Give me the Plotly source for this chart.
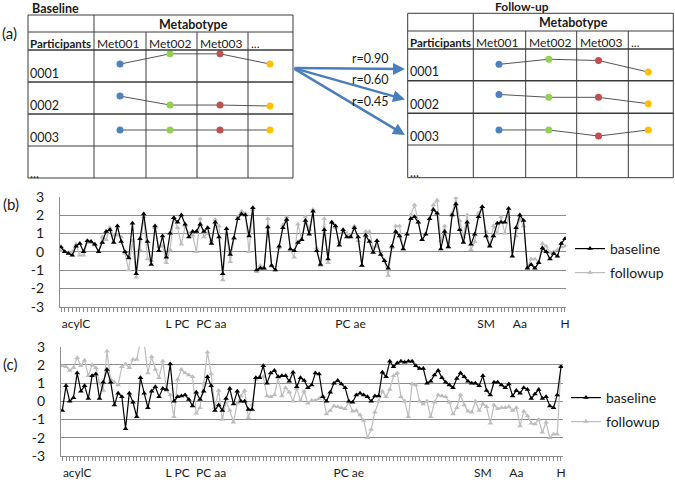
import plotly.graph_objects as go

W, H = 675, 482

# ---------------- data ----------------
group_labels = ["acylC", "L PC", "PC aa", "PC ae", "SM", "Aa", "H"]
group_pos = [5, 32, 41, 78, 114, 123, 135]
y_ticks = [-3, -2, -1, 0, 1, 2, 3]
y_tick_text = ["-3", "-2", "-1", "0", "1", "2", "3"]

b_baseline = [0.25, 0.0, -0.1, -0.2, 0.3, 0.45, 0.0, 0.6, 0.55, 0.4, 0.0, 0.5, 1.1, 1.2, 0.5, 1.4, 0.55, 0.0, -0.35, 1.55,
              -1.2, 0.7, 2.05, 0.55, -0.7, 1.4, 0.05, 0.85, -0.3, 1.0, 1.85, 1.6, 2.0, 1.5, 0.8, 1.1, 1.1, 1.5, 1.1, 1.3,
              0.45, 1.6, 0.8, -1.2, 1.25, -0.15, 0.75, 1.8, 2.05,
              2.0, 0.85, 2.4, -1.0, -0.9, -0.9, 1.35, -0.75, -1.0, 0.3, 1.3, 1.75, 0.15, 0.05, 0.5, 0.65, 1.7, 0.95, 2.2, 0.05,
              -0.7, 1.2, -0.4, 1.6, 1.4, 0.35, 1.2, 0.8, 0.8, 1.3, 0.8, -0.75, 0.9, 0.55, -0.05, 0.6, -0.15, -0.5, -0.9, 0.3,
              1.1, 0.85, 0.15, 0.95, 1.8, 1.9, 1.6, 0.65, 0.95, 1.8, 2.3, 2.1, 0.15,
              1.1, 0.25, 2.0, 2.6, 1.2, 0.5, 1.6, 0.4, 0.95, 1.9, 2.45, 0.85, 0.3, 0.85, 1.55, 1.6, 1.6, 2.35, -0.25, 1.3,
              2.0, 1.7, -0.9, -0.7, -0.9, -0.6, 0.2, 0.0, -0.4, -0.1, -0.25, 0.45, 0.7]
b_followup = [0.05, 0.0, -0.05, 0.0, 0.4, -0.2, -0.2, 0.5, 0.5, 0.35, 0.0, 0.8, 0.65, 1.3, 0.9, 0.9, 0.8, -0.1, -1.0, 0.6,
              -1.4, 0.1, 1.9, -0.4, -0.5, 1.3, 0.3, 0.3, -0.6, 0.1, 1.85, 1.3, 0.4, 1.4, 1.0, 0.9, 0.0, 1.8, 0.8, 1.0,
              0.6, 1.75, 1.4, -1.55, 1.0, -0.55, 0.7, 1.9, 2.2,
              2.1, 0.0, 2.3, -1.1, -0.75, -0.9, 1.8, -0.8, -1.0, 0.2, 1.45, 1.9, 0.1, -0.3, 1.5, 0.7, 1.9, 1.2, 2.3, 0.2,
              -0.75, 1.8, -0.6, 1.6, 1.3, 0.5, 1.1, 1.0, 0.9, 1.4, 0.6, -0.75, 1.1, 1.1, 0.2, 0.3, 0.0, -0.5, -1.3, 0.2,
              1.4, 1.4, 0.15, 1.0, 2.0, 2.55, 1.6, 0.65, 1.0, 1.8, 2.55, 2.8, 0.6,
              1.4, 0.25, 2.1, 2.95, 1.7, 0.8, 2.0, 0.1, 0.55, 2.1, 2.45, 1.1, 0.35, 1.4, 1.0, 1.9, 1.0, 1.9, 0.05, 0.85,
              1.8, 1.4, -0.85, -0.4, -0.4, -0.55, 0.45, 0.3, -0.05, 0.0, 0.1, 0.25, 0.3]

c_baseline = [-0.5, 0.85, 0.0, 0.2, 1.55, 0.55, 0.85, 0.15, 1.4, 1.5, 0.15, 1.05, 1.75, 1.05, -0.2, 0.45, 0.25, -1.5, 0.45, -0.05,
              -0.85, 1.3, 0.45, -0.35, 0.55, 0.8, 0.25, 0.7, 0.65, 2.05, 0.0, 0.25, 0.3, 0.35, 0.1, -0.25, 0.5, 0.1, 0.55, 1.35,
              0.85, -0.5, -0.2, -0.5, 0.15, 0.7, -0.15,
              0.55, 0.0, 0.0, -0.45, -0.45, 1.3, 1.3, 1.95, 1.0, 1.55, 1.7, 1.35, 1.4, 1.4, 1.1, 1.6, 0.8, 1.3, 1.15, 0.75,
              0.9, 1.55, 1.5, 0.25, 0.0, 0.5, 1.0, 1.15, 0.95, 0.75, 0.0, -0.05, 0.35, 0.45, 0.35, 0.25, 0.0, 0.3, 0.3, 1.6,
              1.35, 2.2, 1.9, 2.1, 2.2, 2.15, 2.2, 2.2, 1.95, 1.8, 1.8, 1.0, 1.1, 1.45,
              1.7, 1.3, 1.05, 0.9, 0.75, 1.25, 1.55, 1.35, 1.1, 1.0, 1.0, 0.85, 1.4, 0.6, 0.35, 1.05, 1.05, 0.9, 0.75, 0.95,
              0.3, 0.6, 0.45, 0.75, 0.65, 0.15, 0.4, 0.65, 0.15, 0.25, -0.25, -0.35, 0.35, 1.9]
c_followup = [1.95, 1.9, 1.7, 1.85, 2.4, 1.95, 2.25, 1.4, 2.0, 1.85, 1.0, 0.6, 2.75, 1.2, 1.05, 0.9, 1.9, 2.05, 1.85, 2.3,
              2.3, 3.3, 3.2, 1.55, 2.45, 1.75, 1.3, 2.2, 0.6, 0.35, -0.85, 1.2, 1.75, 1.55, 1.45, 1.35, -0.65, -0.35, 1.0, 2.7,
              1.5, -0.35, 0.6, -1.0, 0.0, -0.5, -1.15,
              -0.1, 0.3, 0.6, -0.9, -0.2, 1.2, 1.35, 1.35, 0.3, 0.25, 0.35, 1.3, 0.3, 0.75, 0.5, 0.0, 0.7, 0.05, 0.55, -0.1,
              0.05, 0.05, 0.15, 0.3, -0.7, -0.5, -0.25, -0.3, -0.35, -0.4, -0.05, -0.55, -0.5, -0.75, -1.05, -2.0, -1.55, -0.6, 0.0, 0.55,
              0.25, 0.65, 1.4, 1.55, 0.25, 0.0, -0.85, 0.95, 0.9, 0.0, -0.15, 0.0, -0.85, -0.05,
              0.35, 0.3, 0.25, -0.05, -0.7, -0.35, 0.35, -0.2, -0.55, -0.6, 0.0, -0.5, -0.15, -0.3, -1.2, -0.2, -0.4, -0.35, -0.35, -0.3,
              -0.5, -0.35, -1.35, -0.55, -0.8, -1.2, -1.25, -1.0, -1.7, -1.15, -2.0, -1.8, -1.8, 1.95]

# panel (a) schematic
metabolites = ["Met001", "Met002", "Met003", "..."]
participants = ["0001", "0002", "0003", "..."]
dot_colors = ["#4f81bd", "#92d050", "#c0504d", "#ffc000"]
baseline_levels = {"0001": [0.56, 0.88, 0.88, 0.56],
                   "0002": [0.56, 0.28, 0.28, 0.25],
                   "0003": [0.5, 0.5, 0.5, 0.5]}
followup_levels = {"0001": [0.52, 0.68, 0.64, 0.28],
                   "0002": [0.58, 0.49, 0.49, 0.29],
                   "0003": [0.47, 0.47, 0.28, 0.47]}
correlations = ["r=0.90", "r=0.60", "r=0.45"]

# ---------------- helpers ----------------
def PX(x):
    return x / W


def PY(y):
    return 1 - y / H


FONT = "Lato, Calibri, Arial, sans-serif"
TXT = "#1a1a1a"
GRID = "#8c8c8c"
BASE_C = "#000000"
FOLL_C = "#bdbdbd"

fig = go.Figure()

n = len(b_baseline)
idx = list(range(1, n + 1))
idx_c = list(range(1, len(c_baseline) + 1))

for xs, yb, yf, xa, ya, lb, lf in [(idx, b_baseline, b_followup, "x", "y", "legend", "legend2"),
                                    (idx_c, c_baseline, c_followup, "x2", "y2", "legend3", "legend4")]:
    fig.add_trace(go.Scatter(x=xs, y=yf, mode="lines+markers", name="followup",
                             line=dict(color=FOLL_C, width=1.2),
                             marker=dict(symbol="triangle-up", size=5, color=FOLL_C),
                             xaxis=xa, yaxis=ya, legend=lf))
    fig.add_trace(go.Scatter(x=xs, y=yb, mode="lines+markers", name="baseline",
                             line=dict(color=BASE_C, width=1.2),
                             marker=dict(symbol="triangle-up", size=5, color=BASE_C),
                             xaxis=xa, yaxis=ya, legend=lb))

# panel (a) dots
for levels, xa, ya in [(baseline_levels, "x3", "y3"), (followup_levels, "x4", "y4")]:
    for r, pid in enumerate(["0001", "0002", "0003"]):
        ys = [(2 - r) + v for v in levels[pid]]
        fig.add_trace(go.Scatter(x=[0, 1, 2, 3], y=ys, mode="lines+markers",
                                 line=dict(color="#555555", width=1),
                                 marker=dict(size=7, color=dot_colors),
                                 xaxis=xa, yaxis=ya, showlegend=False, hoverinfo="skip"))


def xaxis_cfg(dom, rng, count):
    vals = list(range(1, count + 1))
    txt = [""] * count
    for p, lab in zip(group_pos, group_labels):
        txt[p - 1] = lab
    return dict(domain=dom, range=rng, showgrid=False, zeroline=False,
                showline=True, linecolor=GRID, linewidth=1,
                tickmode="array", tickvals=vals, ticktext=txt,
                ticks="outside", ticklen=4, tickcolor=GRID, tickwidth=1, ticklabelstandoff=2,
                tickfont=dict(family=FONT, size=12, color=TXT),
                fixedrange=True)


def yaxis_cfg(dom, anchor):
    return dict(domain=dom, range=[-3, 3], anchor=anchor,
                tickmode="array", tickvals=y_ticks, ticktext=y_tick_text,
                showgrid=True, gridcolor=GRID, gridwidth=1, zeroline=False,
                showline=True, linecolor=GRID, linewidth=1, ticks="",
                ticklabelstandoff=12,
                tickfont=dict(family=FONT, size=14, color=TXT), fixedrange=True)


fig.update_layout(
    width=W, height=H, margin=dict(l=0, r=0, t=0, b=0, pad=0, autoexpand=False),
    paper_bgcolor="white", plot_bgcolor="white",
    xaxis=dict(xaxis_cfg([PX(60), PX(566)], [0.734, n + 0.27], n), anchor="y"),
    yaxis=yaxis_cfg([PY(306.7), PY(196.7)], "x"),
    xaxis2=dict(xaxis_cfg([PX(61), PX(563)], [0.65, len(c_baseline) + 0.54], len(c_baseline)), anchor="y2"),
    yaxis2=yaxis_cfg([PY(456), PY(346.7)], "x2"),
    xaxis3=dict(domain=[PX(95), PX(295)], range=[-0.5, 3.5], visible=False, anchor="y3", fixedrange=True),
    yaxis3=dict(domain=[PY(146), PY(50)], range=[0, 3], visible=False, anchor="x3", fixedrange=True),
    xaxis4=dict(domain=[PX(474.1), PX(673.2)], range=[-0.5, 3.5], visible=False, anchor="y4", fixedrange=True),
    yaxis4=dict(domain=[PY(145), PY(49)], range=[0, 3], visible=False, anchor="x4", fixedrange=True),
    showlegend=True,
)

leg = dict(xanchor="left", yanchor="middle", font=dict(family=FONT, size=14, color=TXT),
           bgcolor="rgba(0,0,0,0)", borderwidth=0, itemwidth=30)
fig.update_layout(
    legend=dict(leg, x=PX(570), y=PY(249)),
    legend2=dict(leg, x=PX(570), y=PY(273)),
    legend3=dict(leg, x=PX(566), y=PY(398)),
    legend4=dict(leg, x=PX(566), y=PY(422)),
)

# ---------------- panel (a) tables ----------------
LINE = "#3a3a3a"
shapes = []


def hline(y, x0, x1, w=1):
    shapes.append(dict(type="line", xref="paper", yref="paper", x0=PX(x0), x1=PX(x1), y0=PY(y), y1=PY(y),
                       line=dict(color=LINE, width=w)))


def vline(x, y0, y1, w=1):
    shapes.append(dict(type="line", xref="paper", yref="paper", x0=PX(x), x1=PX(x), y0=PY(y0), y1=PY(y1),
                       line=dict(color=LINE, width=w)))


tables = [
    dict(cols=[28, 94, 146, 197, 248, 293], rows=[15, 32, 50, 82, 114, 146, 178]),
    dict(cols=[407.7, 473.3, 525.7, 576.7, 628.3, 673.3], rows=[13.3, 31, 49, 80.7, 113.3, 145, 177.7]),
]
annots = []


def text(x, y, s, size=12, bold=False, anchor="left", color=TXT):
    annots.append(dict(xref="paper", yref="paper", x=PX(x), y=PY(y), text=("<b>%s</b>" % s) if bold else s,
                       showarrow=False, xanchor=anchor, yanchor="middle",
                       font=dict(family=FONT, size=size, color=color)))


for t in tables:
    c, r = t["cols"], t["rows"]
    for i, y in enumerate(r):
        hline(y, c[0], c[-1], 1.5 if i in (2, 3, 4) else 1)
    vline(c[0], r[0], r[-1])
    vline(c[1], r[0], r[-1])
    vline(c[-1], r[0], r[-1])
    for x in c[2:-1]:
        vline(x, r[1], r[-1])
    text((c[1] + c[-1]) / 2, (r[0] + r[1]) / 2 + 0.5, "Metabotype", 12.5, True, "center")
    text(c[0], (r[1] + r[2]) / 2 + 2, "Participants", 11.5, True)
    for j, m in enumerate(metabolites):
        text(c[1 + j] + 1, (r[1] + r[2]) / 2 + 2, m, 12)
    for j, p in enumerate(participants):
        text(c[0], r[3 + j] - 9 if j < 3 else r[3 + j] - 5, p, 12.5)

text(30, 8, "Baseline", 12.5, True)
text(521.7, 7, "Follow-up", 12, True, "center")
text(0, 33, "(a)", 15)
text(1, 204, "(b)", 15)
text(1, 364, "(c)", 15)

# correlation arrows
arrow_targets = [69, 99.5, 135]
label_y = [58, 80, 101]
for ty, ly, lab in zip(arrow_targets, label_y, correlations):
    annots.append(dict(xref="paper", yref="paper", x=PX(405), y=PY(ty), ax=293 - 405, ay=68 - ty,
                       axref="pixel", ayref="pixel", text="", showarrow=True, arrowhead=2,
                       arrowsize=1, arrowwidth=2.4, arrowcolor="#4a7ebb"))
    text(370.5, ly, lab, 12.5, False, "center")

fig.update_layout(shapes=shapes, annotations=annots)

fig.write_html("out.html", config={"displayModeBar": False},
               post_script="document.body.style.margin='0px';document.body.style.overflow='hidden';")
